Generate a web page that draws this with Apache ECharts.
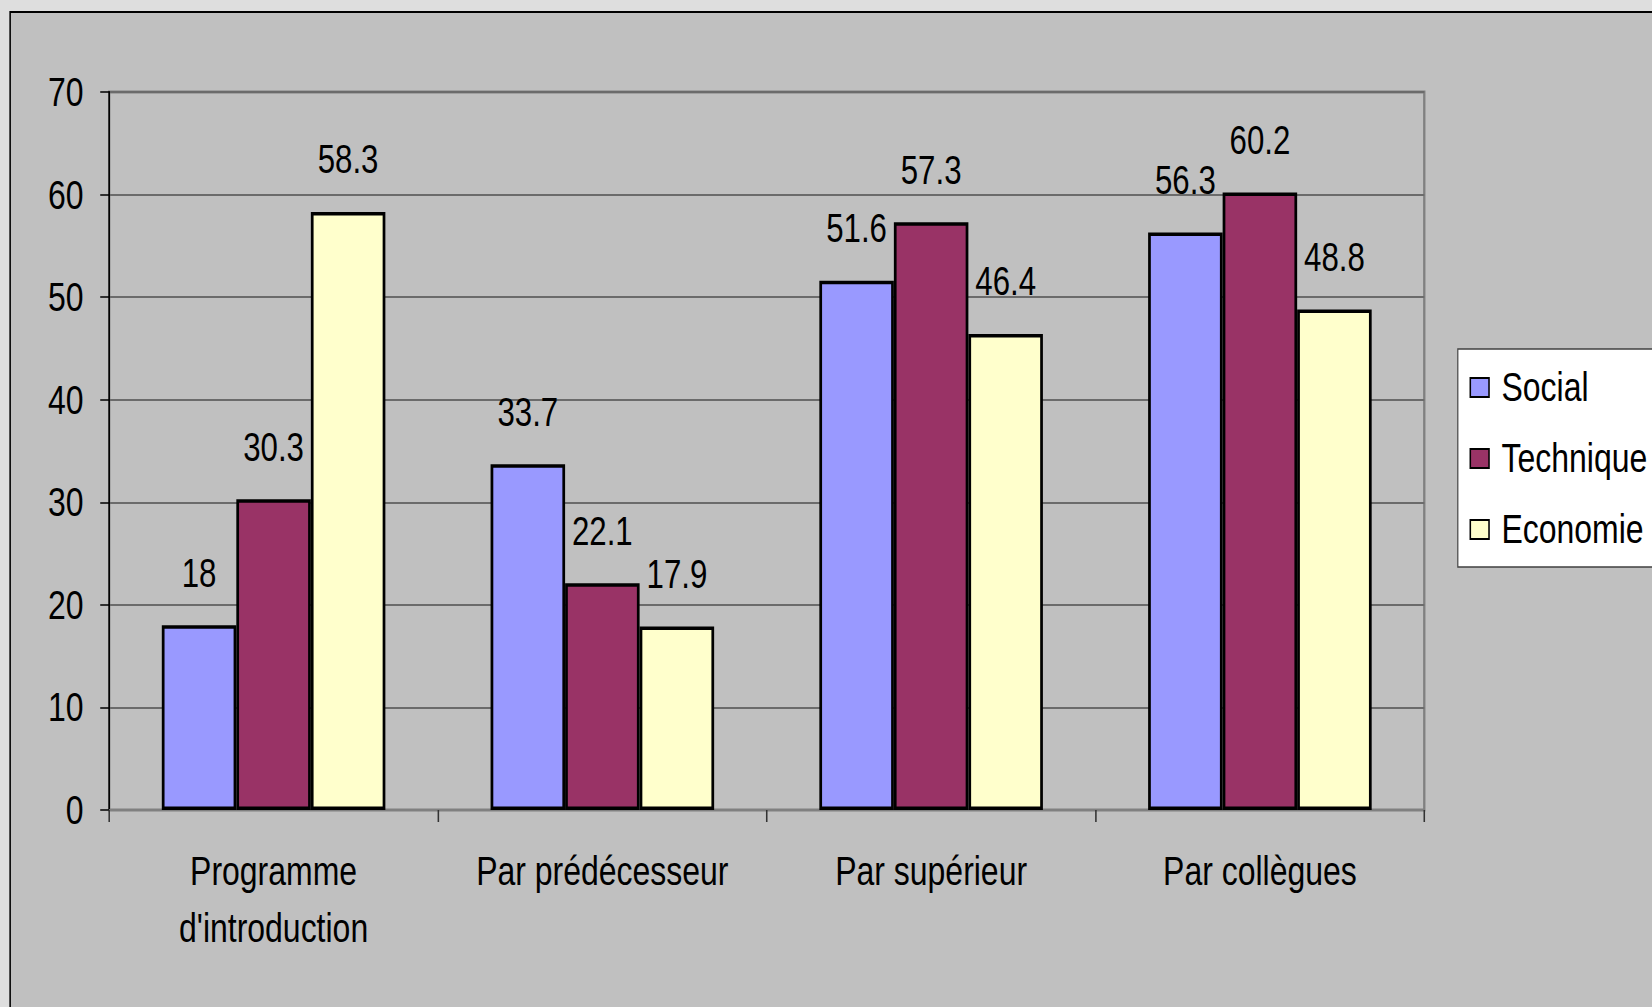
<!DOCTYPE html>
<html>
<head>
<meta charset="utf-8">
<title>Accueil</title>
<script src="https://cdn.jsdelivr.net/npm/echarts@6/dist/echarts.min.js"></script>
<style>
  html, body { margin: 0; padding: 0; background: #dedede; overflow: hidden; width: 1652px; height: 1007px; }
  /* The chart is laid out on a wider canvas and squeezed horizontally,
     which gives the tall, condensed lettering of the original deck. */
  #chart { width: 2118px; height: 1007px; transform: scaleX(0.78); transform-origin: 0 0; }
</style>
</head>
<body>
<div id="chart"></div>
<script>
// Categories and values per series
const categories = ['Programme\nd\'introduction', 'Par prédécesseur', 'Par supérieur', 'Par collègues'];
const social = [18, 33.7, 51.6, 56.3];
const technique = [30.3, 22.1, 57.3, 60.2];
const economie = [58.3, 17.9, 46.4, 48.8];
const yTicks = { min: 0, max: 70, interval: 10 };

const FONT = "'Liberation Sans', Arial, sans-serif";

function barSeries(name, values, color) {
  return {
    name: name,
    type: 'bar',
    data: values,
    barGap: '0%',
    barCategoryGap: '32%',
    itemStyle: { color: color, borderColor: '#000', borderWidth: 3.5 },
    label: {
      show: true,
      position: 'top',
      distance: 32,
      color: '#000',
      fontFamily: FONT,
      fontSize: 40
    },
    emphasis: { disabled: true }
  };
}

const chart = echarts.init(document.getElementById('chart'), null, { renderer: 'svg', width: 2118, height: 1007 });
chart.setOption({
  animation: false,
  backgroundColor: '#dedede',
  textStyle: { fontFamily: FONT },
  graphic: [{
    type: 'rect',
    z: -10,
    silent: true,
    shape: { x: 13, y: 12, width: 2200, height: 1100 },
    style: { fill: '#c0c0c0', stroke: '#000', lineWidth: 2 }
  }],
  grid: {
    left: 140, top: 92, right: 292, bottom: 197,
    show: true,
    backgroundColor: 'transparent',
    borderColor: '#808080',
    borderWidth: 3
  },
  legend: {
    orient: 'vertical',
    left: 1869,
    top: 349,
    padding: [18, 40, 17, 15],
    itemGap: 30,
    itemWidth: 24,
    itemHeight: 19,
    icon: 'rect',
    backgroundColor: '#fff',
    borderColor: '#404040',
    borderWidth: 1.5,
    borderRadius: 0,
    textStyle: { fontFamily: FONT, fontSize: 41, color: '#000', padding: [0, 0, 0, 11], lineHeight: 41 },
    data: ['Social', 'Technique', 'Economie']
  },
  xAxis: {
    type: 'category',
    data: categories,
    axisLine: { lineStyle: { color: '#808080', width: 2 } },
    axisTick: { show: true, length: 12, lineStyle: { color: '#333', width: 2 } },
    axisLabel: { color: '#000', fontFamily: FONT, fontSize: 41, lineHeight: 57, margin: 33, interval: 0 }
  },
  yAxis: {
    type: 'value',
    min: yTicks.min,
    max: yTicks.max,
    interval: yTicks.interval,
    axisLine: { show: true, lineStyle: { color: '#000', width: 2 } },
    axisTick: { show: true, length: 11.5, lineStyle: { color: '#000', width: 1.5 } },
    axisLabel: { color: '#000', fontFamily: FONT, fontSize: 41, margin: 33, padding: [0, 0, 4, 0] },
    splitLine: { lineStyle: { color: '#6b6b6b', width: 2 } }
  },
  series: [
    barSeries('Social', social, '#9999ff'),
    barSeries('Technique', technique, '#993366'),
    barSeries('Economie', economie, '#ffffcc')
  ]
});
</script>
</body>
</html>
